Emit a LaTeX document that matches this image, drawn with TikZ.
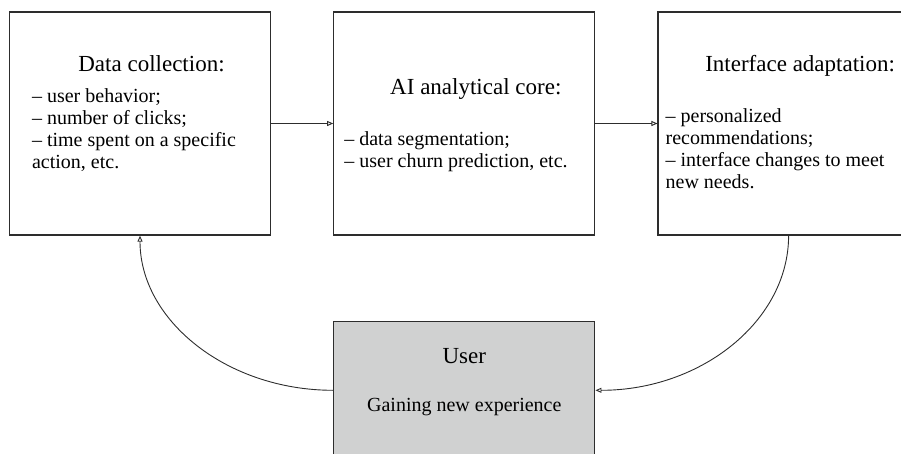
\documentclass[tikz,border=0pt]{standalone}
\usepackage{fontspec}
\setmainfont{Liberation Serif}
\usetikzlibrary{arrows.meta,positioning}
\definecolor{usergray}{RGB}{208,209,209}
\definecolor{edge}{RGB}{45,45,45}
\tikzset{
  box/.style={draw=edge, line width=1.3pt, minimum width=261pt, minimum height=223pt, inner sep=0pt},
  userbox/.style={box, fill=usergray, minimum height=138pt},
  title/.style={anchor=base, inner sep=0pt, font=\fontsize{23}{26}\selectfont},
  body/.style={anchor=north west, inner sep=0pt, align=left, font=\fontsize{20}{22}\selectfont},
  link/.style={draw=edge, line width=0.9pt, -{Triangle[open,length=6pt,width=5pt]}}
}
\begin{document}
\begin{tikzpicture}[x=1pt,y=1pt]
\useasboundingbox (0,0) rectangle (901,-454);
\clip (0,0) rectangle (901,-454);
\node[box] (collect) at (140,-123.5) {};
\node[box, right=62pt of collect] (core) {};
\node[box, right=62pt of core] (adapt) {};
\node[userbox, below=85pt of core] (user) {};
\node[title] (collect-title) at ([shift={(11.5,-60)}]collect.north) {Data collection:};
\node[body] (collect-list) at ([shift={(23,-77)}]collect.north west) {-- user behavior;\\ -- number of clicks;\\ -- time spent on a specific\\ action, etc.};
\node[title] (core-title) at ([shift={(11.5,-83)}]core.north) {AI analytical core:};
\node[body] (core-list) at ([shift={(11,-120)}]core.north west) {-- data segmentation;\\ -- user churn prediction, etc.};
\node[title] (adapt-title) at ([shift={(11.5,-60)}]adapt.north) {Interface adaptation:};
\node[body] (adapt-list) at ([shift={(8,-97)}]adapt.north west) {-- personalized\\ recommendations;\\ -- interface changes to meet\\ new needs.};
\node[title] (user-title) at ([yshift=-43]user.north) {User};
\node[title, font=\fontsize{20}{22}\selectfont] (user-note) at ([yshift=-91]user.north) {Gaining new experience};
\draw[link] (collect) -- (core);
\draw[link] (core) -- (adapt);
\draw[link] (adapt.south) .. controls +(0,-85) and +(106,0) .. (user.east);
\draw[link] (user.west) .. controls +(-106,0) and +(0,-85) .. (collect.south);
\end{tikzpicture}
\end{document}
